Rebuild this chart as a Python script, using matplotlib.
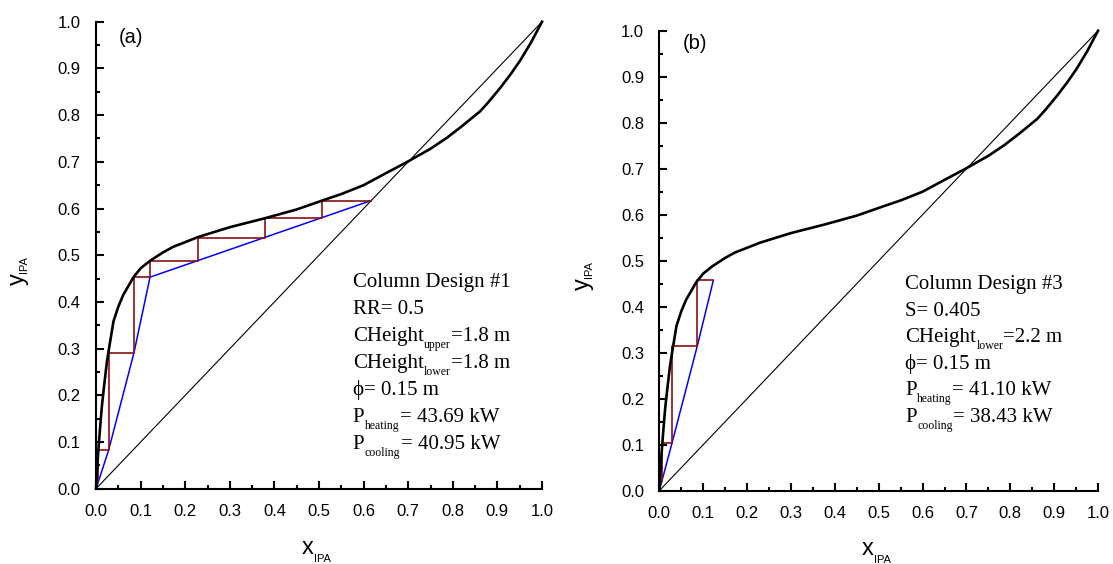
import matplotlib
matplotlib.use('Agg')
import matplotlib.pyplot as plt
from matplotlib.ticker import MultipleLocator, FormatStrFormatter

# equilibrium curve (IPA / water)
eq_x = [0, 0.003, 0.005, 0.009, 0.013, 0.018, 0.024, 0.028, 0.039, 0.05, 0.061,
        0.084, 0.1, 0.121, 0.15, 0.173, 0.2, 0.229, 0.3, 0.378, 0.45, 0.507,
        0.55, 0.6, 0.637, 0.7, 0.75, 0.786, 0.82, 0.861, 0.88, 0.906, 0.93,
        0.951, 0.975, 1.0]
eq_y = [0, 0.05, 0.08, 0.13, 0.176, 0.22, 0.269, 0.294, 0.358, 0.39, 0.415,
        0.453, 0.472, 0.488, 0.506, 0.518, 0.528, 0.539, 0.56, 0.579, 0.598, 0.617,
        0.631, 0.65, 0.669, 0.701, 0.728, 0.751, 0.776, 0.808, 0.828, 0.858, 0.888,
        0.917, 0.955, 1.0]

# (a) operating line and stages
op_x_a = [0, 0.028, 0.085, 0.121, 0.617]
op_y_a = [0, 0.082, 0.291, 0.453, 0.617]
stair_x_a = [0.617, 0.507, 0.507, 0.378, 0.378, 0.229, 0.229, 0.121, 0.121,
             0.085, 0.085, 0.028, 0.028, 0.005, 0.005, 0.001, 0.001]
stair_y_a = [0.617, 0.617, 0.579, 0.579, 0.537, 0.537, 0.488, 0.488, 0.453,
             0.453, 0.291, 0.291, 0.082, 0.082, 0.015, 0.015, 0.0]

# (b) operating line and stages
op_x_b = [0, 0.029, 0.0866, 0.123]
op_y_b = [0, 0.104, 0.315, 0.457]
stair_x_b = [0.123, 0.0866, 0.0866, 0.029, 0.029, 0.0055, 0.0055, 0.001, 0.001]
stair_y_b = [0.457, 0.457, 0.315, 0.315, 0.104, 0.104, 0.02, 0.02, 0.0]

# annotation lines: list of (text, is_subscript) pieces
notes_a = [
    [('Column Design #1', False)],
    [('RR= 0.5', False)],
    [('CHeight', False), ('upper', True), ('=1.8 m', False)],
    [('CHeight', False), ('lower', True), ('=1.8 m', False)],
    [('\u03d5= 0.15 m', False)],
    [('P', False), ('heating', True), ('= 43.69 kW', False)],
    [('P', False), ('cooling', True), ('= 40.95 kW', False)],
]
notes_b = [
    [('Column Design #3', False)],
    [('S= 0.405', False)],
    [('CHeight', False), ('lower', True), ('=2.2 m', False)],
    [('\u03d5= 0.15 m', False)],
    [('P', False), ('heating', True), ('= 41.10 kW', False)],
    [('P', False), ('cooling', True), ('= 38.43 kW', False)],
]

SANS = ['Liberation Sans', 'DejaVu Sans']
SERIF = ['Liberation Serif', 'DejaVu Serif']


def write_line(ax, x, y, parts, size, sub_size, family, drop):
    """Write a line of text with subscripts, pieces chained left to right."""
    prev = ax.text(x, y, parts[0][0], transform=ax.transAxes, ha='left',
                   va='baseline', fontsize=size, family=family)
    for txt, is_sub in parts[1:]:
        prev = ax.annotate(txt, xy=(1, y), xycoords=(prev, ax.transAxes),
                           xytext=(0.3 if is_sub else 0.2, -drop if is_sub else 0),
                           textcoords='offset points', ha='left', va='baseline',
                           fontsize=sub_size if is_sub else size, family=family)
    return prev


def style_axes(ax):
    for side in ['top', 'right']:
        ax.spines[side].set_visible(False)
    for side in ['left', 'bottom']:
        ax.spines[side].set_linewidth(1.5)
    ax.set_xlim(0, 1)
    ax.set_ylim(0, 1)
    ax.xaxis.set_major_locator(MultipleLocator(0.1))
    ax.yaxis.set_major_locator(MultipleLocator(0.1))
    ax.xaxis.set_minor_locator(MultipleLocator(0.05))
    ax.yaxis.set_minor_locator(MultipleLocator(0.05))
    ax.xaxis.set_major_formatter(FormatStrFormatter('%.1f'))
    ax.yaxis.set_major_formatter(FormatStrFormatter('%.1f'))
    ax.tick_params(which='both', direction='in', width=1.5, top=False, right=False)
    ax.tick_params(which='major', length=6, labelsize=12)
    ax.tick_params(axis='x', which='major', pad=11)
    ax.tick_params(axis='y', which='major', pad=11)
    ax.tick_params(which='minor', length=3)
    for lab in ax.get_xticklabels() + ax.get_yticklabels():
        lab.set_family(SANS)


def axis_labels(ax):
    write_line(ax, 0.461, -0.14, [('x', False), ('IPA', True)], 17, 8, SANS, 5.5)
    t0 = ax.text(-0.175, 0.436, 'y', rotation=90, transform=ax.transAxes,
                 ha='center', va='bottom', fontsize=17, family=SANS)
    ax.annotate('IPA', xy=(-0.161, 1), xycoords=(ax.transAxes, t0),
                xytext=(0, 0.5), textcoords='offset points',
                rotation=90, ha='center', va='bottom', fontsize=8, family=SANS)


def draw_panel(ax, op_x, op_y, st_x, st_y):
    ax.plot([0, 1], [0, 1], color='black', lw=0.8, clip_on=False)
    ax.plot(op_x, op_y, color='#0000ff', lw=1.1, clip_on=False)
    ax.plot(st_x, st_y, color='#8b1010', lw=1.2, clip_on=False)
    ax.plot(eq_x, eq_y, color='black', lw=1.9, clip_on=False, zorder=3,
            solid_joinstyle='round')
    style_axes(ax)
    axis_labels(ax)


fig = plt.figure(figsize=(11.13, 5.64), dpi=100)
ax_a = fig.add_axes([0.0863, 0.1335, 0.4007, 0.828])
ax_b = fig.add_axes([0.5924, 0.1300, 0.3942, 0.8156])

draw_panel(ax_a, op_x_a, op_y_a, stair_x_a, stair_y_a)
draw_panel(ax_b, op_x_b, op_y_b, stair_x_b, stair_y_b)

ax_a.text(0.052, 0.966, '(a)', transform=ax_a.transAxes, ha='left', va='center',
          fontsize=14.5, family=SANS)
ax_b.text(0.054, 0.9726, '(b)', transform=ax_b.transAxes, ha='left', va='center',
          fontsize=14.5, family=SANS)

# text blocks, baselines in pixels converted to axes fractions
for i, parts in enumerate(notes_a):
    base = 287 + 27 * i
    write_line(ax_a, 0.5756, (488.7 - base) / 467, parts, 15, 8.5, SERIF, 5)
for i, parts in enumerate(notes_b):
    base = 289.5 + 26.5 * i
    write_line(ax_b, 0.560, (490.7 - base) / 460, parts, 15, 8.5, SERIF, 5)

fig.savefig('out.png', dpi=100)
